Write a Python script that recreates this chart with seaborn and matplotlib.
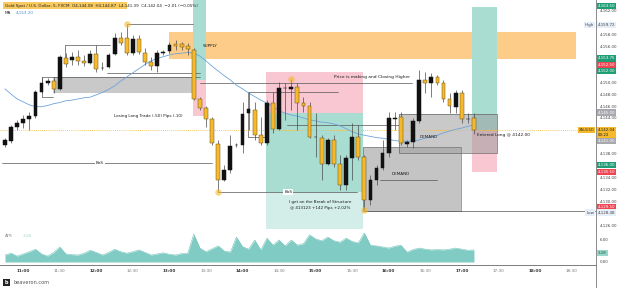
import numpy as np
import pandas as pd
import matplotlib.pyplot as plt
import matplotlib.patches as mpatches
import matplotlib.transforms as mtransforms
import seaborn as sns

# Velas de 5 minutos, XAUUSD (FXCM), desde las 10:45
hora_inicio = "10:45"
open_ = [4139.46, 4140.13, 4142.49, 4143.16, 4143.83, 4144.33, 4148.37, 4149.88, 4150.22, 4148.87,
         4154.08, 4153.75, 4154.25, 4153.58, 4153.24, 4154.75, 4152.32, 4152.57, 4154.75, 4157.44,
         4157.44, 4154.92, 4157.28, 4154.92, 4153.41, 4152.74, 4155.00, 4155.26, 4156.44, 4156.44,
         4156.10, 4155.43, 4147.19, 4145.68, 4143.83, 4139.63, 4133.58, 4135.26, 4139.38, 4139.46,
         4144.84, 4145.34, 4141.14, 4139.80, 4146.52, 4142.15, 4148.96, 4148.87, 4149.21, 4146.52,
         4146.01, 4140.72, 4140.64, 4136.27, 4140.30, 4136.27, 4132.74, 4137.28, 4140.80, 4137.44,
         4130.22, 4133.58, 4135.60, 4138.12, 4143.91, 4144.17, 4139.71, 4139.96, 4143.49, 4150.38,
         4149.88, 4150.89, 4149.88, 4147.19, 4145.85, 4148.20, 4143.75, 4144.08]
high = [4140.64, 4142.82, 4143.66, 4144.50, 4145.01, 4148.70, 4150.89, 4150.72, 4150.89, 4154.59,
        4154.92, 4155.09, 4155.43, 4154.59, 4155.43, 4156.27, 4153.41, 4154.92, 4158.28, 4158.45,
        4159.72, 4157.95, 4157.95, 4155.76, 4154.25, 4155.43, 4155.43, 4156.77, 4157.11, 4156.77,
        4156.60, 4155.76, 4147.53, 4146.01, 4144.17, 4140.30, 4136.10, 4141.14, 4139.80, 4146.69,
        4148.37, 4146.69, 4144.17, 4147.02, 4148.37, 4150.05, 4149.88, 4150.55, 4149.88, 4147.53,
        4146.69, 4144.84, 4141.14, 4140.64, 4141.14, 4137.78, 4137.78, 4143.16, 4142.82, 4137.78,
        4134.42, 4136.10, 4140.30, 4145.01, 4145.01, 4145.01, 4140.30, 4144.00, 4152.07, 4151.73,
        4151.56, 4151.23, 4150.38, 4148.20, 4148.70, 4148.70, 4144.84, 4144.87]
low = [4139.12, 4139.80, 4141.98, 4142.32, 4141.98, 4144.00, 4148.20, 4149.54, 4148.20, 4148.70,
       4152.57, 4152.91, 4152.91, 4152.74, 4153.07, 4151.73, 4152.07, 4152.40, 4154.59, 4156.27,
       4154.59, 4154.59, 4154.75, 4152.91, 4152.07, 4151.73, 4154.59, 4154.92, 4155.43, 4155.43,
       4154.59, 4147.02, 4145.34, 4142.49, 4139.46, 4131.56, 4133.41, 4134.75, 4139.12, 4138.12,
       4141.98, 4140.30, 4139.46, 4139.46, 4141.48, 4141.98, 4143.66, 4145.34, 4141.98, 4145.01,
       4140.64, 4137.44, 4133.58, 4136.10, 4135.76, 4131.90, 4131.90, 4133.58, 4136.94, 4128.48,
       4129.38, 4132.74, 4135.26, 4137.44, 4141.98, 4139.46, 4139.12, 4138.96, 4143.16, 4148.20,
       4147.53, 4149.54, 4146.69, 4144.84, 4144.84, 4143.16, 4143.16, 4141.39]
close = [4140.30, 4142.49, 4143.16, 4143.83, 4144.33, 4148.37, 4149.88, 4150.22, 4148.87, 4154.25,
         4153.07, 4154.25, 4153.58, 4153.24, 4154.75, 4152.23, 4152.40, 4154.59, 4157.44, 4156.60,
         4154.92, 4157.28, 4155.09, 4153.41, 4152.74, 4154.92, 4155.09, 4156.27, 4156.10, 4155.93,
         4155.59, 4147.19, 4145.68, 4143.83, 4139.80, 4133.58, 4135.26, 4139.29, 4139.46, 4144.67,
         4145.51, 4141.14, 4139.80, 4146.52, 4142.15, 4149.04, 4149.04, 4149.21, 4146.52, 4146.01,
         4140.80, 4140.80, 4136.27, 4140.30, 4136.27, 4132.74, 4137.28, 4140.80, 4137.44, 4130.22,
         4133.58, 4135.60, 4138.12, 4144.00, 4144.00, 4139.80, 4139.96, 4143.49, 4150.38, 4149.88,
         4150.89, 4149.88, 4147.19, 4146.01, 4148.20, 4143.83, 4143.83, 4142.04]
ma = [4148.9, 4148.0, 4147.2, 4146.7, 4146.2, 4145.9, 4145.9, 4146.1, 4146.4, 4146.6,
      4146.9, 4147.0, 4147.2, 4147.4, 4147.5, 4147.9, 4148.3, 4148.8, 4149.4, 4150.2,
      4150.9, 4151.6, 4152.3, 4153.0, 4153.6, 4154.0, 4154.3, 4154.6, 4154.8, 4154.9,
      4155.0, 4154.9, 4154.4, 4153.6, 4152.7, 4151.9, 4151.1, 4150.4, 4149.5, 4148.9,
      4148.2, 4147.6, 4147.0, 4146.5, 4145.9, 4145.2, 4144.8, 4144.5, 4144.3, 4144.0,
      4143.7, 4143.5, 4143.3, 4143.2, 4143.0, 4142.7, 4142.2, 4141.7, 4141.3, 4141.1,
      4140.9, 4140.7, 4140.6, 4140.4, 4140.2, 4140.1, 4140.1, 4140.1, 4140.3, 4140.6,
      4140.8, 4141.1, 4141.5, 4141.8, 4142.1, 4142.3, 4142.6, 4142.8]
atr = [1.9, 2.4, 1.6, 2.2, 2.8, 3.5, 2.2, 1.6, 2.6, 4.1,
       2.2, 2.0, 1.9, 2.4, 3.2, 2.6, 1.9, 2.6, 3.5, 2.8,
       2.4, 2.8, 3.3, 2.6, 1.9, 2.2, 2.5, 2.1, 1.9, 2.3,
       2.4, 7.6, 3.8, 2.8, 3.6, 4.4, 3.0, 2.7, 6.8, 4.2,
       3.5, 6.0, 3.3, 6.5, 4.6, 6.0, 4.4, 6.0, 4.6, 5.0,
       7.4, 6.3, 5.8, 6.8, 5.8, 5.4, 6.5, 5.6, 5.2, 7.9,
       4.6, 4.4, 4.1, 3.8, 4.3, 4.6, 2.7, 3.4, 3.8, 3.5,
       3.3, 3.4, 3.3, 3.5, 3.8, 3.5, 3.2, 3.28]

horas = ["11:00", "11:30", "12:00", "12:30", "13:00", "13:30", "14:00", "14:30",
         "15:00", "15:30", "16:00", "16:30", "17:00", "17:30", "18:00", "18:30"]
precios_eje = [4126, 4130, 4132, 4134, 4138, 4144, 4146, 4148, 4150, 4156, 4158, 4162]
# etiquetas de precio marcadas en el eje (precio, color, posición mostrada)
marcas = [4163.50, 4153.75, 4152.50, 4152.00, 4145.00, 4141.00, 4136.00, 4135.50, 4129.50]
marcas_color = ["v", "v", "r", "v", "g", "g", "v", "r", "r"]
marcas_pos = [4162.8, 4154.0, 4152.9, 4151.85, 4144.9, 4140.13, 4136.05, 4134.95, 4129.05]

sns.set_theme(style="white")
plt.rcParams["font.family"] = ["DejaVu Sans"]

df = pd.DataFrame({"open": open_, "high": high, "low": low, "close": close, "ma": ma, "atr": atr})
df["i"] = np.arange(len(df))
df["sube"] = df["close"] >= df["open"]


def a_indice(h):
    hh, mm = map(int, h.split(":"))
    h0, m0 = map(int, hora_inicio.split(":"))
    return (hh * 60 + mm - h0 * 60 - m0) / 5


W, H = 625, 288
fig = plt.figure(figsize=(W / 100, H / 100), dpi=100)
fig.patch.set_facecolor("white")
ax = fig.add_axes([0, 1 - 229 / H, 596 / W, 229 / H])
ax2 = fig.add_axes([0, 1 - 265 / H, 596 / W, 36 / H], sharex=ax)

ORO = "#f6b92b"
VERDE = "#1f9d76"
ROJO = "#ef4452"
GRIS = "#a7a9ae"
TEAL = "#a9ddd2"
ROSA = "#f9c7d1"
CAJA = "#9e9e9e"
colores = {"v": VERDE, "r": ROJO, "g": GRIS}


def caja(x0, x1, y0, y1, **kw):
    ax.add_patch(mpatches.Rectangle((x0, y0), x1 - x0, y1 - y0, zorder=1, lw=0, **kw))


# zonas
caja(26.9, 93.8, 4153.9, 4158.45, fc="#fdcc88")
caja(7.9, 32.0, 4148.2, 4150.89, fc=CAJA, alpha=0.55, ec="#777")
caja(30.9, 33.0, 4150.38, 4164.5, fc=TEAL)
caja(30.9, 33.0, 4144.33, 4150.38, fc=ROSA)
caja(42.9, 58.8, 4144.84, 4151.73, fc=ROSA)
caja(42.9, 58.8, 4131.56, 4144.84, fc=TEAL)
caja(42.9, 58.8, 4125.0, 4131.56, fc="#d3eee9")
caja(76.7, 80.8, 4141.98, 4162.65, fc=TEAL)
caja(76.7, 80.8, 4134.92, 4141.98, fc=ROSA)
caja(58.8, 74.9, 4128.4, 4139.12, fc=CAJA, alpha=0.6)
caja(64.7, 80.8, 4138.12, 4144.67, fc=CAJA, alpha=0.55)
ax.add_patch(mpatches.Rectangle((64.7, 4138.12), 16.1, 6.55, fill=False, ec="#666", lw=0.5, zorder=2))
ax.add_patch(mpatches.Rectangle((58.8, 4128.4), 16.1, 10.72, fill=False, ec="#777", lw=0.5, zorder=2))

# líneas de estructura
lineas = [
    ((9.9, 17.2), (4156.27, 4156.27)), ((9.9, 9.9), (4156.27, 4154.1)),
    ((16.7, 32.0), (4151.56, 4151.56)),
    ((6.1, 7.9), (4147.53, 4147.53)), ((6.1, 6.1), (4150.89, 4147.53)), ((6.1, 32.0), (4150.89, 4150.89)),
    ((32.0, 66.8), (4149.88, 4149.88)),
    ((39.9, 54.7), (4148.37, 4148.37)), ((39.9, 39.9), (4148.37, 4140.8)), ((39.9, 42.9), (4140.8, 4140.8)),
    ((46.3, 64.7), (4142.82, 4142.82)),
    ((20.0, 30.9), (4159.72, 4159.72)),
    ((-0.5, 34.0), (4136.43, 4136.43)),
    ((35.0, 57.8), (4131.56, 4131.56)),
    ((59.0, 97.1), (4128.4, 4128.4)),
    ((61.6, 71.0), (4133.58, 4133.58)),
]
for xs, ys in lineas:
    ax.plot(xs, ys, color="#555", lw=0.5, zorder=2)

ax.axhline(close[-1], color=ORO, lw=0.6, ls=(0, (1, 1.5)), zorder=2)

# media móvil
sns.lineplot(data=df, x="i", y="ma", ax=ax, color="#6fa3d8", lw=0.6, zorder=3)

# velas
ax.vlines(df["i"], df["low"], df["high"], color="#4a4a4a", lw=0.5, zorder=4)
cuerpo = (df["close"] - df["open"]).abs().clip(lower=0.09)
base = df[["open", "close"]].min(axis=1)
ax.bar(df["i"], cuerpo, bottom=base, width=0.62,
       color=np.where(df["sube"], "#111111", ORO),
       edgecolor=np.where(df["sube"], "#111111", "#6b5313"), linewidth=0.35, zorder=5)

# círculos
for xi, yi in [(20, 4159.72), (47, 4150.55), (35, 4131.56), (59, 4128.45)]:
    ax.scatter(xi, yi, s=22, color=ORO, alpha=0.6, lw=0, zorder=6)

# textos de la gráfica
txt = dict(fontsize=3.0, color="#1a1a1a", zorder=7)
ax.text(32.5, 4156.15, "SUPPLY", va="center", ha="left", **txt)
ax.text(23.5, 4144.4, "Losing Long Trade (-50) Pips (-10)", va="center", ha="center", **txt)
ax.text(60.3, 4150.9, "Price is making and Closing Higher", va="center", ha="center", fontsize=3.2,
        color="#1a1a1a", zorder=7)
ax.text(15.6, 4136.43, "BoS", va="center", ha="center", bbox=dict(fc="white", ec="none", pad=0.6), **txt)
ax.text(46.5, 4131.56, "BoS", va="center", ha="center", bbox=dict(fc="white", ec="none", pad=0.6), **txt)
ax.text(69.5, 4140.8, "DEMAND", va="center", ha="center", **txt)
ax.text(65.0, 4134.6, "DEMAND", va="center", ha="center", **txt)
ax.text(77.5, 4141.1, "Entered Long @ 4142.00", va="center", ha="left", fontsize=3.1, color="#1a1a1a", zorder=7)
ax.text(51.7, 4129.9, "I get on the Break of Structure", va="center", ha="center", **txt)
ax.text(51.7, 4128.85, "@ 413123 +142 Pips +2.02%", va="center", ha="center", **txt)

# ejes
ax.set_xlim(-0.82, 97.04)
ax.set_ylim(4125.34, 4163.83)
ax.set_xlabel("")
ax.set_ylabel("")
ax.yaxis.tick_right()
ax.set_yticks(precios_eje)
ax.set_yticklabels([f"{p:,.2f}" for p in precios_eje])
ax.tick_params(axis="y", labelsize=2.9, labelcolor="#444", length=0, pad=2.5)
ax.tick_params(axis="x", labelbottom=False, length=0)
for s in ["top", "left"]:
    ax.spines[s].set_visible(False)
ax.spines["right"].set_color("#777")
ax.spines["right"].set_linewidth(0.6)
ax.spines["bottom"].set_color("#999")
ax.spines["bottom"].set_linewidth(0.6)

# etiquetas de precio a la derecha
tr = mtransforms.blended_transform_factory(ax.transAxes, ax.transData)
for p, c, pos in zip(marcas, marcas_color, marcas_pos):
    ax.text(1.003, pos, f"{p:,.2f}", transform=tr, fontsize=2.9, color="white", va="center", ha="left",
            bbox=dict(boxstyle="square,pad=0.3", fc=colores[c], ec="none"), clip_on=False, zorder=8)
ax.text(1.003, 4141.55, f"{close[-1]:,.2f}\n00:22", transform=tr, fontsize=2.9, color="#222", va="center",
        ha="left", linespacing=1.1, bbox=dict(boxstyle="square,pad=0.3", fc=ORO, ec="none"), clip_on=False, zorder=8)
for p, nombre in [(max(high), "High"), (min(low), "Low")]:
    yp = p - 0.1 if nombre == "High" else p - 0.4
    ax.text(1.003, yp, f"{p:,.2f}", transform=tr, fontsize=2.9, color="#444", va="center", ha="left",
            bbox=dict(boxstyle="square,pad=0.3", fc="#e6eef8", ec="none"), clip_on=False, zorder=8)
    ax.text(0.997, yp, nombre, transform=tr, fontsize=2.9, color="#445", va="center", ha="right",
            bbox=dict(boxstyle="square,pad=0.3", fc="#e6eef8", ec="none"), clip_on=False, zorder=8)
ax.text(0.997, close[-1], "XAUUSD", transform=tr, fontsize=2.6, color="#333", va="center", ha="right",
        bbox=dict(boxstyle="square,pad=0.3", fc=ORO, ec="none"), clip_on=False, zorder=8)

# panel ATR
ax2.fill_between(df["i"], df["atr"], 0, color="#80cbc4", lw=0)
sns.lineplot(data=df, x="i", y="atr", ax=ax2, color="#74c5bb", lw=0.4)
ax2.set_ylim(-0.82, 9.0)
ax2.set_xlabel("")
ax2.set_ylabel("")
ax2.yaxis.tick_right()
ax2.set_yticks([0, 6])
ax2.set_yticklabels(["0.00", "6.00"])
ax2.tick_params(axis="y", labelsize=2.9, labelcolor="#444", length=0, pad=2.5)
tr2 = mtransforms.blended_transform_factory(ax2.transAxes, ax2.transData)
ax2.text(1.003, 2.5, f"{atr[-1]:.2f}", transform=tr2, fontsize=2.9, color="#1a5c50", va="center", ha="left",
         bbox=dict(boxstyle="square,pad=0.3", fc="#9ad6c9", ec="none"), clip_on=False)
ax2.text(0.008, 7.2, "ATR", transform=tr2, fontsize=3.0, color="#888", va="center", ha="left")
ax2.text(0.038, 7.2, f"{atr[-1]:.2f}", transform=tr2, fontsize=3.0, color="#9ad6c9", va="center", ha="left")
for s in ["top", "left"]:
    ax2.spines[s].set_visible(False)
ax2.spines["right"].set_color("#777")
ax2.spines["right"].set_linewidth(0.6)
ax2.spines["bottom"].set_color("#666")
ax2.spines["bottom"].set_linewidth(0.6)

ax2.set_xticks([a_indice(h) for h in horas])
ax2.set_xticklabels(horas)
ax2.tick_params(axis="x", labelsize=3.0, labelcolor="#333", length=0, pad=3)
for lab in ax2.get_xticklabels():
    if lab.get_text().endswith(":00"):
        lab.set_fontweight("bold")
    else:
        lab.set_color("#777")

fig.add_artist(plt.Line2D([596 / W, 596 / W], [0, 23 / H], color="#777", lw=0.6))

# cabecera
fig.add_artist(mpatches.Rectangle((3 / W, 1 - 9 / H), 124 / W, 7 / H, fc=ORO, alpha=0.75, lw=0))
fig.text(5 / W, 1 - 5.5 / H,
         "Gold Spot / U.S. Dollar, 5, FXCM  O4,144.08  H4,144.87  L4,141.39  C4,142.04  \u22122.01 (\u22120.05%)",
         fontsize=3.0, color="#222", va="center", ha="left")
fig.text(5 / W, 1 - 13 / H, "MA", fontsize=3.0, color="#222", va="center", ha="left")
fig.text(16 / W, 1 - 13 / H, "4,153.20", fontsize=3.0, color="#4a8fd8", va="center", ha="left")

# marca de agua
fig.add_artist(mpatches.Rectangle((3 / W, 2 / H), 7 / W, 7 / H, fc="#222", lw=0))
fig.text(6.5 / W, 5.5 / H, "b", fontsize=3.6, color="white", va="center", ha="center", fontweight="bold")
fig.text(13 / W, 5.5 / H, "beaveron.com", fontsize=3.6, color="#555", va="center", ha="left")

fig.savefig("out.png", dpi=100, facecolor="white")
